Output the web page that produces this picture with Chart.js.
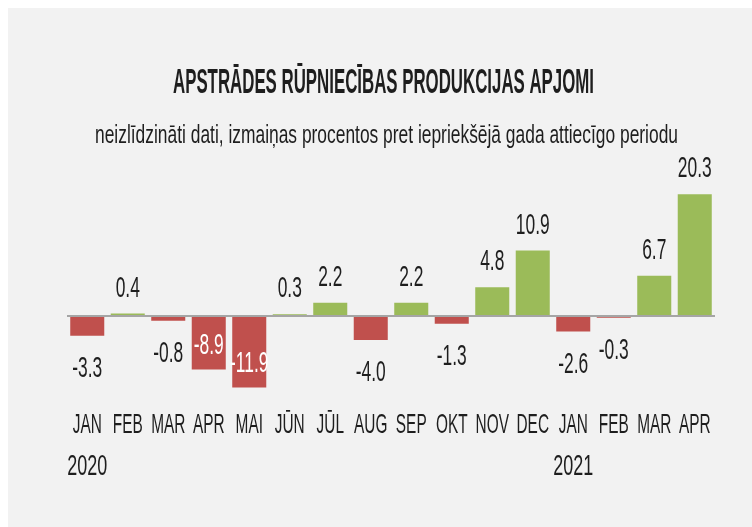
<!DOCTYPE html>
<html lang="lv">
<head>
  <meta charset="UTF-8" />
  <title>Apstrādes rūpniecības produkcijas apjomi</title>
  <script src="https://cdn.jsdelivr.net/npm/chart.js"></script>
  <style>
    body {
      margin: 0;
      background: #ffffff;
      width: 752px;
      height: 527px;
      position: relative;
      overflow: hidden;
    }
    .panel {
      position: absolute;
      left: 8px;
      top: 8px;
      right: 0;
      bottom: 0;
      background: #f2f2f2;
    }
    #prodChart {
      position: absolute;
      left: 0;
      top: 0;
    }
  </style>
</head>
<body>
  <div class="panel"></div>
  <canvas id="prodChart" width="752" height="527"></canvas>

<script>
  const titleText = 'APSTRĀDES RŪPNIECĪBAS PRODUKCIJAS APJOMI';
  const subtitleText = 'neizlīdzināti dati, izmaiņas procentos pret iepriekšējā gada attiecīgo periodu';
  const months = ['JAN', 'FEB', 'MAR', 'APR', 'MAI', 'JŪN', 'JŪL', 'AUG', 'SEP', 'OKT', 'NOV', 'DEC', 'JAN', 'FEB', 'MAR', 'APR'];
  const years = ['2020', '', '', '', '', '', '', '', '', '', '', '', '2021', '', '', ''];
  const values = [-3.3, 0.4, -0.8, -8.9, -11.9, 0.3, 2.2, -4.0, 2.2, -1.3, 4.8, 10.9, -2.6, -0.3, 6.7, 20.3];

  const GREEN = '#9bbb59';
  const RED = '#c0504d';
  const INK = '#1e1e1e';
  const FONT = '"Liberation Sans", Arial, sans-serif';

  // the original uses a very tall, condensed face, so squeeze regular text horizontally
  function narrowText(ctx, text, x, y, size, sx, color, weight) {
    ctx.save();
    ctx.font = `${weight || 'normal'} ${size}px ${FONT}`;
    ctx.fillStyle = color;
    ctx.textAlign = 'center';
    ctx.textBaseline = 'alphabetic';
    ctx.translate(x, y);
    ctx.scale(sx, 1);
    ctx.fillText(text, 0, 0);
    ctx.restore();
  }

  function fitText(ctx, text, cx, y, size, width, color, weight) {
    ctx.save();
    ctx.font = `${weight || 'normal'} ${size}px ${FONT}`;
    const sx = width / ctx.measureText(text).width;
    ctx.restore();
    narrowText(ctx, text, cx, y, size, sx, color, weight);
  }

  const textPlugin = {
    id: 'textPlugin',
    afterDatasetsDraw(chart) {
      const { ctx, chartArea } = chart;
      const x = chart.scales.x;
      const y = chart.scales.y;
      const zero = y.getPixelForValue(0);

      // zero line on top of the bars
      ctx.save();
      ctx.strokeStyle = '#a5a5a5';
      ctx.lineWidth = 2;
      ctx.beginPath();
      ctx.moveTo(chartArea.left, zero);
      ctx.lineTo(chartArea.right, zero);
      ctx.stroke();
      ctx.restore();

      // titles
      fitText(ctx, titleText, 383.5, 93, 35, 421, INK, 'bold');
      fitText(ctx, subtitleText, 386.5, 143, 26, 583, INK, 'normal');

      // value labels
      values.forEach((v, i) => {
        const cx = x.getPixelForValue(i);
        const end = y.getPixelForValue(v);
        const label = v.toFixed(1);
        if (v >= 0) {
          narrowText(ctx, label, cx, end - 17, 30, 0.58, INK);
        } else if (end + 41 <= chartArea.bottom) {
          narrowText(ctx, label, cx, end + 41, 30, 0.58, INK);
        } else {
          // no room below the plot: put it inside the bar
          narrowText(ctx, label, cx, end - 15, 30, 0.58, '#ffffff');
        }
      });

      // category axis labels
      months.forEach((m, i) => {
        const cx = x.getPixelForValue(i);
        narrowText(ctx, m, cx, 433, 28, 0.55, INK);
        if (years[i]) narrowText(ctx, years[i], cx, 475, 29, 0.62, INK);
      });
    }
  };

  new Chart(document.getElementById('prodChart'), {
    type: 'bar',
    data: {
      labels: months,
      datasets: [{
        data: values,
        backgroundColor: values.map(v => v < 0 ? RED : GREEN),
        barPercentage: 0.84,
        categoryPercentage: 1
      }]
    },
    options: {
      responsive: false,
      animation: false,
      layout: {
        padding: { left: 67, right: 37, top: 184, bottom: 127 }
      },
      plugins: {
        legend: { display: false },
        tooltip: { enabled: false }
      },
      scales: {
        x: { display: false },
        y: { display: false, min: -14, max: 22 }
      }
    },
    plugins: [textPlugin]
  });
</script>
</body>
</html>
